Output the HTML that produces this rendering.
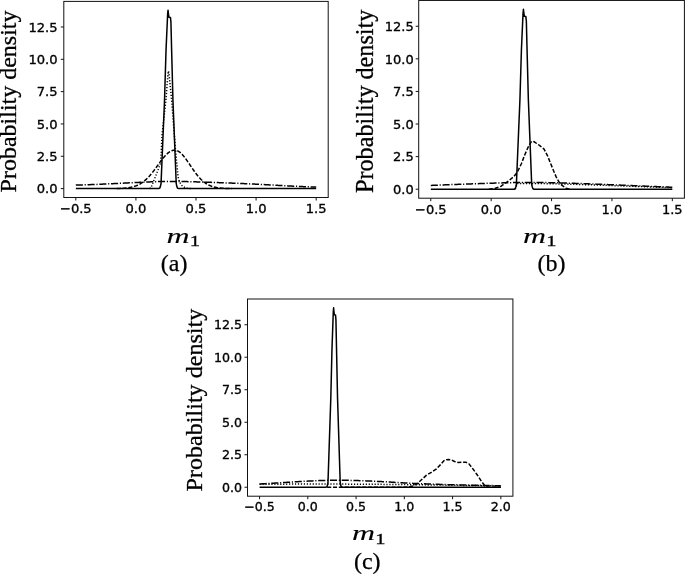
<!DOCTYPE html>
<html><head><meta charset="utf-8"><title>Figure</title>
<style>html,body{margin:0;padding:0;background:#fff}svg{display:block}</style></head>
<body>
<svg width="685" height="574" viewBox="0 0 685 574">
<rect width="685" height="574" fill="#fff"/>
<g fill="none" stroke="#000" stroke-width="1.5" stroke-linejoin="round">
<path stroke-dasharray="1.2 1.75" d="M149.62 188.59 L150.92 187.89 L156.12 174.91 L160.73 162.73 L162.03 134.88 L165.93 100.04 L167.93 74.08 L168.43 70.99 L169.03 74.08 L171.63 100.04 L175.44 148.85 L178.04 176.71 L179.44 181.90 L182.04 185.69 L185.14 187.69 L188.14 188.49 L192.15 188.59"/>
<path stroke-dasharray="4.1 1.75" d="M116.68 188.48 L116.97 188.48 L117.26 188.47 L117.55 188.46 L117.84 188.46 L118.13 188.45 L118.41 188.44 L118.70 188.43 L118.99 188.42 L119.28 188.41 L119.57 188.40 L119.86 188.39 L120.15 188.38 L120.44 188.37 L120.73 188.36 L121.02 188.35 L121.31 188.33 L121.60 188.32 L121.88 188.30 L122.17 188.29 L122.46 188.27 L122.75 188.25 L123.04 188.24 L123.33 188.22 L123.62 188.20 L123.91 188.18 L124.20 188.15 L124.49 188.13 L124.78 188.11 L125.07 188.08 L125.35 188.06 L125.64 188.03 L125.93 188.00 L126.22 187.97 L126.51 187.94 L126.80 187.91 L127.09 187.87 L127.38 187.84 L127.67 187.80 L127.96 187.76 L128.25 187.72 L128.54 187.68 L128.82 187.64 L129.11 187.59 L129.40 187.55 L129.69 187.50 L129.98 187.45 L130.27 187.39 L130.56 187.34 L130.85 187.28 L131.14 187.22 L131.43 187.16 L131.72 187.10 L132.01 187.03 L132.29 186.96 L132.58 186.89 L132.87 186.82 L133.16 186.74 L133.45 186.66 L133.74 186.58 L134.03 186.49 L134.32 186.40 L134.61 186.31 L134.90 186.22 L135.19 186.12 L135.48 186.02 L135.76 185.91 L136.05 185.81 L136.34 185.69 L136.63 185.58 L136.92 185.46 L137.21 185.34 L137.50 185.21 L137.79 185.08 L138.08 184.95 L138.37 184.81 L138.66 184.67 L138.95 184.52 L139.23 184.37 L139.52 184.22 L139.81 184.06 L140.10 183.90 L140.39 183.73 L140.68 183.56 L140.97 183.38 L141.26 183.20 L141.55 183.02 L141.84 182.82 L142.13 182.63 L142.42 182.43 L142.70 182.22 L142.99 182.02 L143.28 181.80 L143.57 181.58 L143.86 181.36 L144.15 181.13 L144.44 180.89 L144.73 180.65 L145.02 180.41 L145.31 180.16 L145.60 179.90 L145.89 179.64 L146.17 179.38 L146.46 179.11 L146.75 178.83 L147.04 178.55 L147.33 178.27 L147.62 177.98 L147.91 177.68 L148.20 177.38 L148.49 177.08 L148.78 176.77 L149.07 176.46 L149.35 176.14 L149.64 175.81 L149.93 175.49 L150.22 175.15 L150.51 174.82 L150.80 174.48 L151.09 174.13 L151.38 173.78 L151.67 173.43 L151.96 173.07 L152.25 172.71 L152.54 172.35 L152.82 171.98 L153.11 171.61 L153.40 171.23 L153.69 170.86 L153.98 170.48 L154.27 170.09 L154.56 169.71 L154.85 169.32 L155.14 168.93 L155.43 168.54 L155.72 168.14 L156.01 167.75 L156.29 167.35 L156.58 166.95 L156.87 166.56 L157.16 166.16 L157.45 165.76 L157.74 165.36 L158.03 164.96 L158.32 164.56 L158.61 164.16 L158.90 163.76 L159.19 163.36 L159.48 162.96 L159.76 162.57 L160.05 162.17 L160.34 161.78 L160.63 161.39 L160.92 161.01 L161.21 160.62 L161.50 160.24 L161.79 159.86 L162.08 159.49 L162.37 159.12 L162.66 158.75 L162.95 158.39 L163.23 158.03 L163.52 157.68 L163.81 157.33 L164.10 156.99 L164.39 156.65 L164.68 156.32 L164.97 156.00 L165.26 155.68 L165.55 155.37 L165.84 155.07 L166.13 154.77 L166.42 154.48 L166.70 154.20 L166.99 153.93 L167.28 153.66 L167.57 153.41 L167.86 153.16 L168.15 152.92 L168.44 152.69 L168.73 152.46 L169.02 152.25 L169.31 152.05 L169.60 151.86 L169.89 151.67 L170.17 151.50 L170.46 151.34 L170.75 151.19 L171.04 151.04 L171.33 150.91 L171.62 150.79 L171.91 150.68 L172.20 150.58 L172.49 150.49 L172.78 150.42 L173.07 150.35 L173.36 150.30 L173.64 150.25 L173.93 150.22 L174.22 150.20 L174.51 150.19 L174.80 150.19 L175.09 150.21 L175.38 150.24 L175.67 150.28 L175.96 150.33 L176.25 150.40 L176.54 150.48 L176.83 150.58 L177.11 150.68 L177.40 150.80 L177.69 150.93 L177.98 151.08 L178.27 151.23 L178.56 151.40 L178.85 151.58 L179.14 151.77 L179.43 151.98 L179.72 152.19 L180.01 152.42 L180.30 152.65 L180.58 152.90 L180.87 153.16 L181.16 153.43 L181.45 153.70 L181.74 153.99 L182.03 154.29 L182.32 154.59 L182.61 154.91 L182.90 155.23 L183.19 155.56 L183.48 155.90 L183.76 156.25 L184.05 156.61 L184.34 156.97 L184.63 157.33 L184.92 157.71 L185.21 158.09 L185.50 158.47 L185.79 158.87 L186.08 159.26 L186.37 159.66 L186.66 160.07 L186.95 160.48 L187.23 160.89 L187.52 161.31 L187.81 161.72 L188.10 162.15 L188.39 162.57 L188.68 162.99 L188.97 163.42 L189.26 163.85 L189.55 164.28 L189.84 164.71 L190.13 165.14 L190.42 165.57 L190.70 166.00 L190.99 166.43 L191.28 166.86 L191.57 167.29 L191.86 167.72 L192.15 168.15 L192.44 168.57 L192.73 168.99 L193.02 169.41 L193.31 169.83 L193.60 170.24 L193.89 170.65 L194.17 171.06 L194.46 171.46 L194.75 171.87 L195.04 172.26 L195.33 172.66 L195.62 173.05 L195.91 173.43 L196.20 173.81 L196.49 174.19 L196.78 174.56 L197.07 174.92 L197.36 175.28 L197.64 175.64 L197.93 175.99 L198.22 176.34 L198.51 176.68 L198.80 177.01 L199.09 177.34 L199.38 177.66 L199.67 177.98 L199.96 178.29 L200.25 178.60 L200.54 178.90 L200.83 179.19 L201.11 179.48 L201.40 179.77 L201.69 180.04 L201.98 180.31 L202.27 180.58 L202.56 180.84 L202.85 181.09 L203.14 181.34 L203.43 181.58 L203.72 181.82 L204.01 182.05 L204.30 182.27 L204.58 182.49 L204.87 182.71 L205.16 182.91 L205.45 183.12 L205.74 183.31 L206.03 183.51 L206.32 183.69 L206.61 183.87 L206.90 184.05 L207.19 184.22 L207.48 184.39 L207.77 184.55 L208.05 184.70 L208.34 184.86 L208.63 185.00 L208.92 185.14 L209.21 185.28 L209.50 185.42 L209.79 185.54 L210.08 185.67 L210.37 185.79 L210.66 185.91 L210.95 186.02 L211.24 186.13 L211.52 186.23 L211.81 186.33 L212.10 186.43 L212.39 186.52 L212.68 186.62 L212.97 186.70 L213.26 186.79 L213.55 186.87 L213.84 186.94 L214.13 187.02 L214.42 187.09 L214.70 187.16 L214.99 187.23 L215.28 187.29 L215.57 187.35 L215.86 187.41 L216.15 187.47 L216.44 187.52 L216.73 187.57 L217.02 187.62 L217.31 187.67 L217.60 187.71 L217.89 187.76 L218.17 187.80 L218.46 187.84 L218.75 187.88 L219.04 187.91 L219.33 187.95 L219.62 187.98 L219.91 188.01 L220.20 188.04 L220.49 188.07 L220.78 188.10 L221.07 188.12 L221.36 188.15 L221.64 188.17 L221.93 188.20 L222.22 188.22 L222.51 188.24 L222.80 188.26 L223.09 188.28 L223.38 188.29 L223.67 188.31 L223.96 188.32 L224.25 188.34 L224.54 188.35 L224.83 188.37 L225.11 188.38 L225.40 188.39 L225.69 188.40 L225.98 188.41 L226.27 188.42 L226.56 188.43 L226.85 188.44 L227.14 188.45 L227.43 188.46 L227.72 188.47 L228.01 188.47 L228.30 188.48 L228.58 188.49 L228.87 188.49 L229.16 188.50 L229.45 188.51 L229.74 188.51 L230.03 188.52 L230.32 188.52 L230.61 188.52 L230.90 188.53 L231.19 188.53 L231.48 188.54 L231.77 188.54 L232.05 188.54"/>
<path stroke-dasharray="7.1 1.75 1.15 1.75" d="M75.82 185.10 L76.42 185.08 L77.02 185.07 L77.63 185.05 L78.23 185.04 L78.83 185.02 L79.43 185.00 L80.04 184.99 L80.64 184.97 L81.24 184.95 L81.84 184.93 L82.44 184.91 L83.05 184.90 L83.65 184.88 L84.25 184.86 L84.85 184.84 L85.46 184.82 L86.06 184.80 L86.66 184.78 L87.26 184.76 L87.87 184.73 L88.47 184.71 L89.07 184.69 L89.67 184.67 L90.28 184.65 L90.88 184.62 L91.48 184.60 L92.08 184.58 L92.69 184.55 L93.29 184.53 L93.89 184.51 L94.49 184.48 L95.10 184.46 L95.70 184.43 L96.30 184.41 L96.90 184.38 L97.51 184.36 L98.11 184.33 L98.71 184.31 L99.31 184.28 L99.91 184.25 L100.52 184.23 L101.12 184.20 L101.72 184.17 L102.32 184.15 L102.93 184.12 L103.53 184.09 L104.13 184.06 L104.73 184.04 L105.34 184.01 L105.94 183.98 L106.54 183.95 L107.14 183.92 L107.75 183.90 L108.35 183.87 L108.95 183.84 L109.55 183.81 L110.16 183.78 L110.76 183.75 L111.36 183.72 L111.96 183.69 L112.57 183.66 L113.17 183.63 L113.77 183.61 L114.37 183.58 L114.98 183.55 L115.58 183.52 L116.18 183.49 L116.78 183.46 L117.38 183.43 L117.99 183.40 L118.59 183.37 L119.19 183.34 L119.79 183.31 L120.40 183.28 L121.00 183.25 L121.60 183.22 L122.20 183.19 L122.81 183.16 L123.41 183.13 L124.01 183.10 L124.61 183.07 L125.22 183.04 L125.82 183.01 L126.42 182.98 L127.02 182.95 L127.63 182.92 L128.23 182.89 L128.83 182.86 L129.43 182.83 L130.04 182.80 L130.64 182.77 L131.24 182.74 L131.84 182.71 L132.45 182.68 L133.05 182.65 L133.65 182.62 L134.25 182.59 L134.85 182.56 L135.46 182.53 L136.06 182.50 L136.66 182.47 L137.26 182.45 L137.87 182.42 L138.47 182.39 L139.07 182.36 L139.67 182.33 L140.28 182.30 L140.88 182.28 L141.48 182.25 L142.08 182.22 L142.69 182.19 L143.29 182.17 L143.89 182.14 L144.49 182.12 L145.10 182.09 L145.70 182.06 L146.30 182.04 L146.90 182.01 L147.51 181.99 L148.11 181.96 L148.71 181.94 L149.31 181.92 L149.92 181.89 L150.52 181.87 L151.12 181.85 L151.72 181.83 L152.32 181.80 L152.93 181.78 L153.53 181.76 L154.13 181.74 L154.73 181.72 L155.34 181.70 L155.94 181.68 L156.54 181.67 L157.14 181.65 L157.75 181.63 L158.35 181.61 L158.95 181.60 L159.55 181.58 L160.16 181.57 L160.76 181.55 L161.36 181.54 L161.96 181.53 L162.57 181.51 L163.17 181.50 L163.77 181.49 L164.37 181.48 L164.98 181.47 L165.58 181.46 L166.18 181.45 L166.78 181.45 L167.39 181.44 L167.99 181.43 L168.59 181.43 L169.19 181.42 L169.79 181.42 L170.40 181.42 L171.00 181.41 L171.60 181.41 L172.20 181.41 L172.81 181.41 L173.41 181.41 L174.01 181.41 L174.61 181.42 L175.22 181.42 L175.82 181.42 L176.42 181.43 L177.02 181.43 L177.63 181.44 L178.23 181.45 L178.83 181.46 L179.43 181.46 L180.04 181.47 L180.64 181.48 L181.24 181.49 L181.84 181.50 L182.45 181.51 L183.05 181.52 L183.65 181.54 L184.25 181.55 L184.86 181.56 L185.46 181.58 L186.06 181.59 L186.66 181.60 L187.26 181.62 L187.87 181.63 L188.47 181.65 L189.07 181.66 L189.67 181.68 L190.28 181.70 L190.88 181.71 L191.48 181.73 L192.08 181.75 L192.69 181.77 L193.29 181.78 L193.89 181.80 L194.49 181.82 L195.10 181.84 L195.70 181.85 L196.30 181.87 L196.90 181.89 L197.51 181.91 L198.11 181.93 L198.71 181.95 L199.31 181.97 L199.92 181.99 L200.52 182.00 L201.12 182.02 L201.72 182.04 L202.33 182.06 L202.93 182.08 L203.53 182.10 L204.13 182.12 L204.74 182.14 L205.34 182.16 L205.94 182.18 L206.54 182.20 L207.14 182.22 L207.75 182.24 L208.35 182.26 L208.95 182.28 L209.55 182.30 L210.16 182.32 L210.76 182.34 L211.36 182.36 L211.96 182.39 L212.57 182.41 L213.17 182.43 L213.77 182.45 L214.37 182.47 L214.98 182.49 L215.58 182.51 L216.18 182.53 L216.78 182.56 L217.39 182.58 L217.99 182.60 L218.59 182.62 L219.19 182.64 L219.80 182.66 L220.40 182.69 L221.00 182.71 L221.60 182.73 L222.21 182.75 L222.81 182.78 L223.41 182.80 L224.01 182.82 L224.61 182.84 L225.22 182.87 L225.82 182.89 L226.42 182.91 L227.02 182.94 L227.63 182.96 L228.23 182.98 L228.83 183.00 L229.43 183.03 L230.04 183.05 L230.64 183.08 L231.24 183.10 L231.84 183.12 L232.45 183.15 L233.05 183.17 L233.65 183.19 L234.25 183.22 L234.86 183.24 L235.46 183.27 L236.06 183.29 L236.66 183.32 L237.27 183.34 L237.87 183.37 L238.47 183.39 L239.07 183.42 L239.68 183.44 L240.28 183.47 L240.88 183.49 L241.48 183.52 L242.08 183.54 L242.69 183.57 L243.29 183.60 L243.89 183.62 L244.49 183.65 L245.10 183.68 L245.70 183.70 L246.30 183.73 L246.90 183.76 L247.51 183.78 L248.11 183.81 L248.71 183.84 L249.31 183.87 L249.92 183.89 L250.52 183.92 L251.12 183.95 L251.72 183.98 L252.33 184.01 L252.93 184.04 L253.53 184.07 L254.13 184.09 L254.74 184.12 L255.34 184.15 L255.94 184.18 L256.54 184.21 L257.15 184.24 L257.75 184.27 L258.35 184.30 L258.95 184.34 L259.55 184.37 L260.16 184.40 L260.76 184.43 L261.36 184.46 L261.96 184.49 L262.57 184.52 L263.17 184.56 L263.77 184.59 L264.37 184.62 L264.98 184.65 L265.58 184.69 L266.18 184.72 L266.78 184.75 L267.39 184.78 L267.99 184.82 L268.59 184.85 L269.19 184.88 L269.80 184.91 L270.40 184.95 L271.00 184.98 L271.60 185.01 L272.21 185.05 L272.81 185.08 L273.41 185.11 L274.01 185.15 L274.62 185.18 L275.22 185.21 L275.82 185.25 L276.42 185.28 L277.02 185.31 L277.63 185.35 L278.23 185.38 L278.83 185.41 L279.43 185.44 L280.04 185.48 L280.64 185.51 L281.24 185.54 L281.84 185.58 L282.45 185.61 L283.05 185.64 L283.65 185.67 L284.25 185.71 L284.86 185.74 L285.46 185.77 L286.06 185.80 L286.66 185.83 L287.27 185.87 L287.87 185.90 L288.47 185.93 L289.07 185.96 L289.68 185.99 L290.28 186.02 L290.88 186.05 L291.48 186.08 L292.09 186.12 L292.69 186.15 L293.29 186.18 L293.89 186.21 L294.49 186.23 L295.10 186.26 L295.70 186.29 L296.30 186.32 L296.90 186.35 L297.51 186.38 L298.11 186.41 L298.71 186.44 L299.31 186.46 L299.92 186.49 L300.52 186.52 L301.12 186.54 L301.72 186.57 L302.33 186.60 L302.93 186.62 L303.53 186.65 L304.13 186.67 L304.74 186.70 L305.34 186.72 L305.94 186.75 L306.54 186.77 L307.15 186.79 L307.75 186.82 L308.35 186.84 L308.95 186.86 L309.56 186.89 L310.16 186.91 L310.76 186.93 L311.36 186.95 L311.96 186.97 L312.57 186.99 L313.17 187.01 L313.77 187.03 L314.37 187.05 L314.98 187.06 L315.58 187.08 L316.18 187.10"/>
<path d="M75.87 188.59 L158.72 188.59 L159.73 188.09 L160.43 186.39 L161.03 183.69 L164.53 100.04 L166.03 50.13 L167.63 14.19 L168.03 10.19 L168.43 13.69 L168.93 17.18 L170.43 17.38 L170.93 22.17 L171.63 50.13 L172.93 100.04 L176.24 183.69 L176.84 186.39 L177.54 188.09 L178.54 188.59 L316.18 188.59"/>
</g>
<g stroke="#111" stroke-width="1" fill="none">
<rect x="63.80" y="1.40" width="264.40" height="196.10"/>
<path d="M75.82 197.50 v3.0 M135.91 197.50 v3.0 M196.00 197.50 v3.0 M256.09 197.50 v3.0 M316.18 197.50 v3.0 M63.80 188.59 h-3.0 M63.80 156.27 h-3.0 M63.80 123.95 h-3.0 M63.80 91.63 h-3.0 M63.80 59.31 h-3.0 M63.80 26.99 h-3.0"/>
</g>
<g font-family="'DejaVu Sans', 'Liberation Sans', sans-serif" font-size="13.1" fill="#000" stroke="#000" stroke-width="0.35">
<text x="75.82" y="212.90" text-anchor="middle">−0.5</text>
<text x="135.91" y="212.90" text-anchor="middle">0.0</text>
<text x="196.00" y="212.90" text-anchor="middle">0.5</text>
<text x="256.09" y="212.90" text-anchor="middle">1.0</text>
<text x="316.18" y="212.90" text-anchor="middle">1.5</text>
<text x="57.60" y="193.37" text-anchor="end">0.0</text>
<text x="57.60" y="161.05" text-anchor="end">2.5</text>
<text x="57.60" y="128.73" text-anchor="end">5.0</text>
<text x="57.60" y="96.41" text-anchor="end">7.5</text>
<text x="57.60" y="64.09" text-anchor="end">10.0</text>
<text x="57.60" y="31.77" text-anchor="end">12.5</text>
</g>
<text font-family="'Liberation Serif', serif" font-size="24" stroke="#000" stroke-width="0.3" text-anchor="middle" transform="translate(15.70 101.45) rotate(-90)">Probability density</text>
<text font-family="'Liberation Serif', serif" font-style="italic" font-size="21" stroke="#000" stroke-width="0.1" text-anchor="middle" transform="translate(178.00 242.60) scale(1.52 1)">m</text>
<text font-family="'Liberation Serif', serif" font-size="15.6" stroke="#000" stroke-width="0.3" text-anchor="middle" transform="translate(194.90 245.90) scale(1.32 1)">1</text>
<text font-family="'Liberation Serif', serif" font-size="24" stroke="#000" stroke-width="0.25" text-anchor="middle" x="174.10" y="270.70">(a)</text>
<g fill="none" stroke="#000" stroke-width="1.5" stroke-linejoin="round">
<path stroke-dasharray="1.2 1.75" d="M515.32 189.21 L517.13 183.60 L517.52 183.59 L517.91 183.59 L518.30 183.58 L518.69 183.58 L519.07 183.57 L519.46 183.57 L519.85 183.56 L520.24 183.56 L520.63 183.56 L521.02 183.55 L521.41 183.55 L521.80 183.54 L522.19 183.54 L522.58 183.54 L522.96 183.53 L523.35 183.53 L523.74 183.53 L524.13 183.53 L524.52 183.52 L524.91 183.52 L525.30 183.52 L525.69 183.52 L526.08 183.51 L526.46 183.51 L526.85 183.51 L527.24 183.51 L527.63 183.51 L528.02 183.51 L528.41 183.51 L528.80 183.51 L529.19 183.51 L529.58 183.51 L529.97 183.51 L530.35 183.51 L530.74 183.51 L531.13 183.51 L531.52 183.51 L531.91 183.51 L532.30 183.51 L532.69 183.51 L533.08 183.51 L533.47 183.51 L533.85 183.51 L534.24 183.52 L534.63 183.52 L535.02 183.52 L535.41 183.52 L535.80 183.53 L536.19 183.53 L536.58 183.53 L536.97 183.53 L537.36 183.54 L537.74 183.54 L538.13 183.54 L538.52 183.55 L538.91 183.55 L539.30 183.55 L539.69 183.56 L540.08 183.56 L540.47 183.57 L540.86 183.57 L541.24 183.57 L541.63 183.58 L542.02 183.58 L542.41 183.59 L542.80 183.59 L543.19 183.60 L543.58 183.60 L543.97 183.61 L544.36 183.62 L544.75 183.62 L545.13 183.63 L545.52 183.63 L545.91 183.64 L546.30 183.64 L546.69 183.65 L547.08 183.66 L547.47 183.66 L547.86 183.67 L548.25 183.68 L548.64 183.68 L549.02 183.69 L549.41 183.70 L549.80 183.70 L550.19 183.71 L550.58 183.72 L550.97 183.73 L551.36 183.73 L551.75 183.74 L552.14 183.75 L552.52 183.76 L552.91 183.76 L553.30 183.77 L553.69 183.78 L554.08 183.79 L554.47 183.79 L554.86 183.80 L555.25 183.81 L555.64 183.82 L556.03 183.83 L556.41 183.84 L556.80 183.84 L557.19 183.85 L557.58 183.86 L557.97 183.87 L558.36 183.88 L558.75 183.89 L559.14 183.90 L559.53 183.91 L559.91 183.92 L560.30 183.93 L560.69 183.93 L561.08 183.94 L561.47 183.95 L561.86 183.96 L562.25 183.97 L562.64 183.98 L563.03 183.99 L563.42 184.00 L563.80 184.01 L564.19 184.02 L564.58 184.03 L564.97 184.04 L565.36 184.05 L565.75 184.06 L566.14 184.07 L566.53 184.08 L566.92 184.09 L567.30 184.10 L567.69 184.11 L568.08 184.13 L568.47 184.14 L568.86 184.15 L569.25 184.16 L569.64 184.17 L570.03 184.18 L570.42 184.19 L570.81 184.20 L571.19 184.21 L571.58 184.22 L571.97 184.23 L572.36 184.25 L572.75 184.26 L573.14 184.27 L573.53 184.28 L573.92 184.29 L574.31 184.30 L574.70 184.31 L575.08 184.33 L575.47 184.34 L575.86 184.35 L576.25 184.36 L576.64 184.37 L577.03 184.38 L577.42 184.40 L577.81 184.41 L578.20 184.42 L578.58 184.43 L578.97 184.44 L579.36 184.46 L579.75 184.47 L580.14 184.48 L580.53 184.49 L580.92 184.50 L581.31 184.52 L581.70 184.53 L582.09 184.54 L582.47 184.55 L582.86 184.57 L583.25 184.58 L583.64 184.59 L584.03 184.60 L584.42 184.61 L584.81 184.63 L585.20 184.64 L585.59 184.65 L585.97 184.66 L586.36 184.68 L586.75 184.69 L587.14 184.70 L587.53 184.72 L587.92 184.73 L588.31 184.74 L588.70 184.75 L589.09 184.77 L589.48 184.78 L589.86 184.79 L590.25 184.80 L590.64 184.82 L591.03 184.83 L591.42 184.84 L591.81 184.86 L592.20 184.87 L592.59 184.88 L592.98 184.90 L593.36 184.91 L593.75 184.92 L594.14 184.93 L594.53 184.95 L594.92 184.96 L595.31 184.97 L595.70 184.99 L596.09 185.00 L596.48 185.01 L596.87 185.03 L597.25 185.04 L597.64 185.05 L598.03 185.07 L598.42 185.08 L598.81 185.09 L599.20 185.11 L599.59 185.12 L599.98 185.13 L600.37 185.15 L600.76 185.16 L601.14 185.17 L601.53 185.19 L601.92 185.20 L602.31 185.21 L602.70 185.23 L603.09 185.24 L603.48 185.25 L603.87 185.27 L604.26 185.28 L604.64 185.29 L605.03 185.31 L605.42 185.32 L605.81 185.34 L606.20 185.35 L606.59 185.36 L606.98 185.38 L607.37 185.39 L607.76 185.40 L608.15 185.42 L608.53 185.43 L608.92 185.44 L609.31 185.46 L609.70 185.47 L610.09 185.49 L610.48 185.50 L610.87 185.51 L611.26 185.53 L611.65 185.54 L612.03 185.55 L612.42 185.57 L612.81 185.58 L613.20 185.60 L613.59 185.61 L613.98 185.62 L614.37 185.64 L614.76 185.65 L615.15 185.66 L615.54 185.68 L615.92 185.69 L616.31 185.71 L616.70 185.72 L617.09 185.73 L617.48 185.75 L617.87 185.76 L618.26 185.77 L618.65 185.79 L619.04 185.80 L619.42 185.82 L619.81 185.83 L620.20 185.84 L620.59 185.86 L620.98 185.87 L621.37 185.89 L621.76 185.90 L622.15 185.91 L622.54 185.93 L622.93 185.94 L623.31 185.95 L623.70 185.97 L624.09 185.98 L624.48 186.00 L624.87 186.01 L625.26 186.02 L625.65 186.04 L626.04 186.05 L626.43 186.07 L626.82 186.08 L627.20 186.09 L627.59 186.11 L627.98 186.12 L628.37 186.14 L628.76 186.15 L629.15 186.16 L629.54 186.18 L629.93 186.19 L630.32 186.20 L630.70 186.22 L631.09 186.23 L631.48 186.25 L631.87 186.26 L632.26 186.27 L632.65 186.29 L633.04 186.30 L633.43 186.32 L633.82 186.33 L634.21 186.34 L634.59 186.36 L634.98 186.37 L635.37 186.39 L635.76 186.40 L636.15 186.41 L636.54 186.43 L636.93 186.44 L637.32 186.46 L637.71 186.47 L638.09 186.48 L638.48 186.50 L638.87 186.51 L639.26 186.53 L639.65 186.54 L640.04 186.55 L640.43 186.57 L640.82 186.58 L641.21 186.60 L641.60 186.61 L641.98 186.62 L642.37 186.64 L642.76 186.65 L643.15 186.66 L643.54 186.68 L643.93 186.69 L644.32 186.71 L644.71 186.72 L645.10 186.73 L645.48 186.75 L645.87 186.76 L646.26 186.78 L646.65 186.79 L647.04 186.80 L647.43 186.82 L647.82 186.83 L648.21 186.85 L648.60 186.86 L648.99 186.87 L649.37 186.89 L649.76 186.90 L650.15 186.92 L650.54 186.93 L650.93 186.94 L651.32 186.96 L651.71 186.97 L652.10 186.99 L652.49 187.00 L652.87 187.01 L653.26 187.03 L653.65 187.04 L654.04 187.06 L654.43 187.07 L654.82 187.08 L655.21 187.10 L655.60 187.11 L655.99 187.12 L656.38 187.14 L656.76 187.15 L657.15 187.17 L657.54 187.18 L657.93 187.19 L658.32 187.21 L658.71 187.22 L659.10 187.24 L659.49 187.25 L659.88 187.26 L660.27 187.28 L660.65 187.29 L661.04 187.31 L661.43 187.32 L661.82 187.33 L662.21 187.35 L662.60 187.36 L662.99 187.37 L663.38 187.39 L663.77 187.40 L664.15 187.42 L664.54 187.43 L664.93 187.44 L665.32 187.46 L665.71 187.47 L666.10 187.49 L666.49 187.50 L666.88 187.51 L667.27 187.53 L667.66 187.54 L668.04 187.55 L668.43 187.57 L668.82 187.58 L669.21 187.60 L669.60 187.61 L669.99 187.62 L670.38 187.64 L670.77 187.65 L671.16 187.66 L671.54 187.68 L671.93 187.69 L672.32 187.71"/>
<path stroke-dasharray="4.1 1.75" d="M488.75 189.21 L494.79 188.56 L500.83 186.34 L508.80 180.74 L514.11 176.17 L517.25 172.26 L521.36 163.79 L524.62 155.19 L528.60 146.19 L531.02 142.02 L532.65 140.98 L534.64 142.02 L539.47 145.41 L544.06 149.06 L547.32 155.32 L550.22 162.49 L553.36 170.31 L556.26 177.09 L559.40 182.69 L562.42 185.69 L566.04 188.17 L569.67 189.21"/>
<path stroke-dasharray="7.1 1.75 1.15 1.75" d="M430.78 185.43 L431.38 185.41 L431.99 185.38 L432.59 185.36 L433.20 185.33 L433.80 185.31 L434.41 185.28 L435.01 185.26 L435.62 185.23 L436.23 185.21 L436.83 185.19 L437.44 185.16 L438.04 185.14 L438.65 185.11 L439.25 185.09 L439.86 185.07 L440.46 185.04 L441.07 185.02 L441.67 184.99 L442.28 184.97 L442.88 184.95 L443.49 184.92 L444.10 184.90 L444.70 184.87 L445.31 184.85 L445.91 184.83 L446.52 184.80 L447.12 184.78 L447.73 184.76 L448.33 184.73 L448.94 184.71 L449.54 184.69 L450.15 184.66 L450.75 184.64 L451.36 184.62 L451.97 184.59 L452.57 184.57 L453.18 184.55 L453.78 184.53 L454.39 184.50 L454.99 184.48 L455.60 184.46 L456.20 184.43 L456.81 184.41 L457.41 184.39 L458.02 184.37 L458.62 184.34 L459.23 184.32 L459.84 184.30 L460.44 184.28 L461.05 184.25 L461.65 184.23 L462.26 184.21 L462.86 184.19 L463.47 184.17 L464.07 184.14 L464.68 184.12 L465.28 184.10 L465.89 184.08 L466.49 184.06 L467.10 184.03 L467.71 184.01 L468.31 183.99 L468.92 183.97 L469.52 183.95 L470.13 183.93 L470.73 183.91 L471.34 183.88 L471.94 183.86 L472.55 183.84 L473.15 183.82 L473.76 183.80 L474.36 183.78 L474.97 183.76 L475.58 183.74 L476.18 183.71 L476.79 183.69 L477.39 183.67 L478.00 183.65 L478.60 183.63 L479.21 183.61 L479.81 183.59 L480.42 183.57 L481.02 183.55 L481.63 183.53 L482.23 183.51 L482.84 183.49 L483.45 183.47 L484.05 183.45 L484.66 183.43 L485.26 183.41 L485.87 183.39 L486.47 183.37 L487.08 183.35 L487.68 183.33 L488.29 183.31 L488.89 183.29 L489.50 183.27 L490.10 183.25 L490.71 183.23 L491.31 183.21 L491.92 183.19 L492.53 183.17 L493.13 183.15 L493.74 183.13 L494.34 183.11 L494.95 183.09 L495.55 183.08 L496.16 183.06 L496.76 183.04 L497.37 183.02 L497.97 183.00 L498.58 182.98 L499.18 182.96 L499.79 182.95 L500.40 182.93 L501.00 182.91 L501.61 182.89 L502.21 182.88 L502.82 182.86 L503.42 182.84 L504.03 182.83 L504.63 182.81 L505.24 182.79 L505.84 182.78 L506.45 182.76 L507.05 182.75 L507.66 182.73 L508.27 182.72 L508.87 182.70 L509.48 182.69 L510.08 182.67 L510.69 182.66 L511.29 182.65 L511.90 182.63 L512.50 182.62 L513.11 182.61 L513.71 182.60 L514.32 182.59 L514.92 182.57 L515.53 182.56 L516.14 182.55 L516.74 182.54 L517.35 182.53 L517.95 182.52 L518.56 182.51 L519.16 182.51 L519.77 182.50 L520.37 182.49 L520.98 182.48 L521.58 182.48 L522.19 182.47 L522.79 182.46 L523.40 182.46 L524.01 182.45 L524.61 182.45 L525.22 182.44 L525.82 182.44 L526.43 182.44 L527.03 182.43 L527.64 182.43 L528.24 182.43 L528.85 182.43 L529.45 182.43 L530.06 182.43 L530.66 182.43 L531.27 182.43 L531.88 182.43 L532.48 182.43 L533.09 182.44 L533.69 182.44 L534.30 182.44 L534.90 182.44 L535.51 182.45 L536.11 182.45 L536.72 182.46 L537.32 182.46 L537.93 182.47 L538.53 182.48 L539.14 182.48 L539.75 182.49 L540.35 182.50 L540.96 182.50 L541.56 182.51 L542.17 182.52 L542.77 182.53 L543.38 182.54 L543.98 182.55 L544.59 182.56 L545.19 182.57 L545.80 182.58 L546.40 182.59 L547.01 182.60 L547.62 182.61 L548.22 182.62 L548.83 182.64 L549.43 182.65 L550.04 182.66 L550.64 182.67 L551.25 182.69 L551.85 182.70 L552.46 182.71 L553.06 182.73 L553.67 182.74 L554.27 182.76 L554.88 182.77 L555.48 182.79 L556.09 182.80 L556.70 182.82 L557.30 182.83 L557.91 182.85 L558.51 182.86 L559.12 182.88 L559.72 182.90 L560.33 182.91 L560.93 182.93 L561.54 182.95 L562.14 182.96 L562.75 182.98 L563.35 183.00 L563.96 183.02 L564.57 183.03 L565.17 183.05 L565.78 183.07 L566.38 183.09 L566.99 183.11 L567.59 183.13 L568.20 183.14 L568.80 183.16 L569.41 183.18 L570.01 183.20 L570.62 183.22 L571.22 183.24 L571.83 183.26 L572.44 183.28 L573.04 183.30 L573.65 183.32 L574.25 183.34 L574.86 183.36 L575.46 183.38 L576.07 183.40 L576.67 183.43 L577.28 183.45 L577.88 183.47 L578.49 183.49 L579.09 183.51 L579.70 183.53 L580.31 183.55 L580.91 183.58 L581.52 183.60 L582.12 183.62 L582.73 183.64 L583.33 183.66 L583.94 183.69 L584.54 183.71 L585.15 183.73 L585.75 183.75 L586.36 183.78 L586.96 183.80 L587.57 183.82 L588.18 183.84 L588.78 183.87 L589.39 183.89 L589.99 183.91 L590.60 183.93 L591.20 183.96 L591.81 183.98 L592.41 184.00 L593.02 184.03 L593.62 184.05 L594.23 184.07 L594.83 184.10 L595.44 184.12 L596.05 184.14 L596.65 184.17 L597.26 184.19 L597.86 184.22 L598.47 184.24 L599.07 184.26 L599.68 184.29 L600.28 184.31 L600.89 184.34 L601.49 184.36 L602.10 184.38 L602.70 184.41 L603.31 184.43 L603.92 184.46 L604.52 184.48 L605.13 184.50 L605.73 184.53 L606.34 184.55 L606.94 184.58 L607.55 184.60 L608.15 184.63 L608.76 184.65 L609.36 184.67 L609.97 184.70 L610.57 184.72 L611.18 184.75 L611.79 184.77 L612.39 184.80 L613.00 184.82 L613.60 184.85 L614.21 184.87 L614.81 184.90 L615.42 184.92 L616.02 184.95 L616.63 184.97 L617.23 184.99 L617.84 185.02 L618.44 185.04 L619.05 185.07 L619.65 185.09 L620.26 185.12 L620.87 185.14 L621.47 185.17 L622.08 185.19 L622.68 185.22 L623.29 185.24 L623.89 185.27 L624.50 185.29 L625.10 185.32 L625.71 185.34 L626.31 185.37 L626.92 185.39 L627.52 185.42 L628.13 185.44 L628.74 185.47 L629.34 185.49 L629.95 185.52 L630.55 185.54 L631.16 185.57 L631.76 185.59 L632.37 185.62 L632.97 185.64 L633.58 185.66 L634.18 185.69 L634.79 185.71 L635.39 185.74 L636.00 185.76 L636.61 185.79 L637.21 185.81 L637.82 185.84 L638.42 185.86 L639.03 185.89 L639.63 185.91 L640.24 185.94 L640.84 185.96 L641.45 185.99 L642.05 186.01 L642.66 186.04 L643.26 186.06 L643.87 186.09 L644.48 186.11 L645.08 186.14 L645.69 186.16 L646.29 186.19 L646.90 186.21 L647.50 186.24 L648.11 186.26 L648.71 186.29 L649.32 186.31 L649.92 186.34 L650.53 186.36 L651.13 186.39 L651.74 186.41 L652.35 186.44 L652.95 186.46 L653.56 186.49 L654.16 186.51 L654.77 186.54 L655.37 186.56 L655.98 186.59 L656.58 186.61 L657.19 186.64 L657.79 186.66 L658.40 186.69 L659.00 186.71 L659.61 186.74 L660.22 186.76 L660.82 186.79 L661.43 186.81 L662.03 186.84 L662.64 186.86 L663.24 186.89 L663.85 186.91 L664.45 186.94 L665.06 186.96 L665.66 186.98 L666.27 187.01 L666.87 187.03 L667.48 187.06 L668.09 187.08 L668.69 187.11 L669.30 187.13 L669.90 187.16 L670.51 187.18 L671.11 187.21 L671.72 187.23 L672.32 187.26"/>
<path d="M430.83 189.21 L514.09 189.21 L515.10 188.71 L515.80 187.00 L516.40 184.28 L519.92 99.92 L521.43 49.59 L523.04 13.35 L523.44 9.32 L523.85 12.84 L524.35 16.37 L525.86 16.57 L526.36 21.40 L527.06 49.59 L528.37 99.92 L531.69 184.28 L532.29 187.00 L533.00 188.71 L534.00 189.21 L672.32 189.21"/>
</g>
<g stroke="#111" stroke-width="1" fill="none">
<rect x="418.70" y="0.45" width="265.70" height="197.75"/>
<path d="M430.78 198.20 v3.0 M491.16 198.20 v3.0 M551.55 198.20 v3.0 M611.94 198.20 v3.0 M672.32 198.20 v3.0 M418.70 189.21 h-3.0 M418.70 156.62 h-3.0 M418.70 124.03 h-3.0 M418.70 91.44 h-3.0 M418.70 58.85 h-3.0 M418.70 26.26 h-3.0"/>
</g>
<g font-family="'DejaVu Sans', 'Liberation Sans', sans-serif" font-size="13.0" fill="#000" stroke="#000" stroke-width="0.35">
<text x="430.78" y="213.60" text-anchor="middle">−0.5</text>
<text x="491.16" y="213.60" text-anchor="middle">0.0</text>
<text x="551.55" y="213.60" text-anchor="middle">0.5</text>
<text x="611.94" y="213.60" text-anchor="middle">1.0</text>
<text x="672.32" y="213.60" text-anchor="middle">1.5</text>
<text x="413.70" y="193.96" text-anchor="end">0.0</text>
<text x="413.70" y="161.37" text-anchor="end">2.5</text>
<text x="413.70" y="128.77" text-anchor="end">5.0</text>
<text x="413.70" y="96.18" text-anchor="end">7.5</text>
<text x="413.70" y="63.59" text-anchor="end">10.0</text>
<text x="413.70" y="31.00" text-anchor="end">12.5</text>
</g>
<text font-family="'Liberation Serif', serif" font-size="24.2" stroke="#000" stroke-width="0.3" text-anchor="middle" transform="translate(373.10 101.32) rotate(-90)">Probability density</text>
<text font-family="'Liberation Serif', serif" font-style="italic" font-size="21" stroke="#000" stroke-width="0.1" text-anchor="middle" transform="translate(534.50 242.60) scale(1.52 1)">m</text>
<text font-family="'Liberation Serif', serif" font-size="15.6" stroke="#000" stroke-width="0.3" text-anchor="middle" transform="translate(551.40 245.90) scale(1.32 1)">1</text>
<text font-family="'Liberation Serif', serif" font-size="24" stroke="#000" stroke-width="0.25" text-anchor="middle" x="551.40" y="270.80">(b)</text>
<g fill="none" stroke="#000" stroke-width="1.5" stroke-linejoin="round">
<path stroke-dasharray="1.2 1.75" d="M259.56 484.31 L260.17 484.31 L260.77 484.30 L261.38 484.30 L261.98 484.29 L262.59 484.29 L263.19 484.28 L263.80 484.28 L264.40 484.27 L265.01 484.27 L265.61 484.26 L266.22 484.26 L266.82 484.25 L267.42 484.25 L268.03 484.24 L268.63 484.24 L269.24 484.23 L269.84 484.23 L270.45 484.23 L271.05 484.22 L271.66 484.22 L272.26 484.21 L272.87 484.21 L273.47 484.20 L274.08 484.20 L274.68 484.20 L275.29 484.19 L275.89 484.19 L276.50 484.18 L277.10 484.18 L277.70 484.18 L278.31 484.17 L278.91 484.17 L279.52 484.17 L280.12 484.16 L280.73 484.16 L281.33 484.16 L281.94 484.15 L282.54 484.15 L283.15 484.15 L283.75 484.14 L284.36 484.14 L284.96 484.14 L285.57 484.13 L286.17 484.13 L286.77 484.13 L287.38 484.12 L287.98 484.12 L288.59 484.12 L289.19 484.12 L289.80 484.11 L290.40 484.11 L291.01 484.11 L291.61 484.11 L292.22 484.10 L292.82 484.10 L293.43 484.10 L294.03 484.10 L294.64 484.09 L295.24 484.09 L295.85 484.09 L296.45 484.09 L297.05 484.09 L297.66 484.08 L298.26 484.08 L298.87 484.08 L299.47 484.08 L300.08 484.08 L300.68 484.07 L301.29 484.07 L301.89 484.07 L302.50 484.07 L303.10 484.07 L303.71 484.07 L304.31 484.07 L304.92 484.06 L305.52 484.06 L306.13 484.06 L306.73 484.06 L307.33 484.06 L307.94 484.06 L308.54 484.06 L309.15 484.06 L309.75 484.06 L310.36 484.06 L310.96 484.05 L311.57 484.05 L312.17 484.05 L312.78 484.05 L313.38 484.05 L313.99 484.05 L314.59 484.05 L315.20 484.05 L315.80 484.05 L316.40 484.05 L317.01 484.05 L317.61 484.05 L318.22 484.05 L318.82 484.05 L319.43 484.05 L320.03 484.05 L320.64 484.05 L321.24 484.05 L321.85 484.05 L322.45 484.05 L323.06 484.05 L323.66 484.05 L324.27 484.06 L324.87 484.06 L325.48 484.06 L326.08 484.06 L326.68 484.06 L327.29 484.06 L327.89 484.06 L328.50 484.06 L329.10 484.06 L329.71 484.06 L330.31 484.06 L330.92 484.07 L331.52 484.07 L332.13 484.07 L332.73 484.07 L333.34 484.07 L333.94 484.07 L334.55 484.07 L335.15 484.08 L335.76 484.08 L336.36 484.08 L336.96 484.08 L337.57 484.08 L338.17 484.09 L338.78 484.09 L339.38 484.09 L339.99 484.09 L340.59 484.09 L341.20 484.10 L341.80 484.10 L342.41 484.10 L343.01 484.10 L343.62 484.11 L344.22 484.11 L344.83 484.11 L345.43 484.11 L346.03 484.12 L346.64 484.12 L347.24 484.12 L347.85 484.13 L348.45 484.13 L349.06 484.13 L349.66 484.13 L350.27 484.14 L350.87 484.14 L351.48 484.14 L352.08 484.15 L352.69 484.15 L353.29 484.15 L353.90 484.16 L354.50 484.16 L355.11 484.16 L355.71 484.17 L356.31 484.17 L356.92 484.18 L357.52 484.18 L358.13 484.18 L358.73 484.19 L359.34 484.19 L359.94 484.19 L360.55 484.20 L361.15 484.20 L361.76 484.21 L362.36 484.21 L362.97 484.22 L363.57 484.22 L364.18 484.22 L364.78 484.23 L365.39 484.23 L365.99 484.24 L366.59 484.24 L367.20 484.25 L367.80 484.25 L368.41 484.26 L369.01 484.26 L369.62 484.26 L370.22 484.27 L370.83 484.27 L371.43 484.28 L372.04 484.28 L372.64 484.29 L373.25 484.29 L373.85 484.30 L374.46 484.30 L375.06 484.31 L375.66 484.32 L376.27 484.32 L376.87 484.33 L377.48 484.33 L378.08 484.34 L378.69 484.34 L379.29 484.35 L379.90 484.35 L380.50 484.36 L381.11 484.36 L381.71 484.37 L382.32 484.38 L382.92 484.38 L383.53 484.39 L384.13 484.39 L384.74 484.40 L385.34 484.40 L385.94 484.41 L386.55 484.42 L387.15 484.42 L387.76 484.43 L388.36 484.43 L388.97 484.44 L389.57 484.45 L390.18 484.45 L390.78 484.46 L391.39 484.47 L391.99 484.47 L392.60 484.48 L393.20 484.49 L393.81 484.49 L394.41 484.50 L395.01 484.50 L395.62 484.51 L396.22 484.52 L396.83 484.52 L397.43 484.53 L398.04 484.54 L398.64 484.54 L399.25 484.55 L399.85 484.56 L400.46 484.56 L401.06 484.57 L401.67 484.58 L402.27 484.59 L402.88 484.59 L403.48 484.60 L404.09 484.61 L404.69 484.61 L405.29 484.62 L405.90 484.63 L406.50 484.63 L407.11 484.64 L407.71 484.65 L408.32 484.66 L408.92 484.66 L409.53 484.67 L410.13 484.68 L410.74 484.69 L411.34 484.69 L411.95 484.70 L412.55 484.71 L413.16 484.72 L413.76 484.72 L414.37 484.73 L414.97 484.74 L415.57 484.75 L416.18 484.75 L416.78 484.76 L417.39 484.77 L417.99 484.78 L418.60 484.78 L419.20 484.79 L419.81 484.80 L420.41 484.81 L421.02 484.81 L421.62 484.82 L422.23 484.83 L422.83 484.84 L423.44 484.85 L424.04 484.85 L424.64 484.86 L425.25 484.87 L425.85 484.88 L426.46 484.88 L427.06 484.89 L427.67 484.90 L428.27 484.91 L428.88 484.92 L429.48 484.92 L430.09 484.93 L430.69 484.94 L431.30 484.95 L431.90 484.96 L432.51 484.96 L433.11 484.97 L433.72 484.98 L434.32 484.99 L434.92 485.00 L435.53 485.01 L436.13 485.01 L436.74 485.02 L437.34 485.03 L437.95 485.04 L438.55 485.05 L439.16 485.05 L439.76 485.06 L440.37 485.07 L440.97 485.08 L441.58 485.09 L442.18 485.10 L442.79 485.10 L443.39 485.11 L444.00 485.12 L444.60 485.13 L445.20 485.14 L445.81 485.14 L446.41 485.15 L447.02 485.16 L447.62 485.17 L448.23 485.18 L448.83 485.19 L449.44 485.19 L450.04 485.20 L450.65 485.21 L451.25 485.22 L451.86 485.23 L452.46 485.24 L453.07 485.24 L453.67 485.25 L454.27 485.26 L454.88 485.27 L455.48 485.28 L456.09 485.29 L456.69 485.29 L457.30 485.30 L457.90 485.31 L458.51 485.32 L459.11 485.33 L459.72 485.34 L460.32 485.34 L460.93 485.35 L461.53 485.36 L462.14 485.37 L462.74 485.38 L463.35 485.39 L463.95 485.39 L464.55 485.40 L465.16 485.41 L465.76 485.42 L466.37 485.43 L466.97 485.44 L467.58 485.44 L468.18 485.45 L468.79 485.46 L469.39 485.47 L470.00 485.48 L470.60 485.49 L471.21 485.49 L471.81 485.50 L472.42 485.51 L473.02 485.52 L473.63 485.53 L474.23 485.54 L474.83 485.54 L475.44 485.55 L476.04 485.56 L476.65 485.57 L477.25 485.58 L477.86 485.58 L478.46 485.59 L479.07 485.60 L479.67 485.61 L480.28 485.62 L480.88 485.63 L481.49 485.63 L482.09 485.64 L482.70 485.65 L483.30 485.66 L483.90 485.67 L484.51 485.67 L485.11 485.68 L485.72 485.69 L486.32 485.70 L486.93 485.71 L487.53 485.71 L488.14 485.72 L488.74 485.73 L489.35 485.74 L489.95 485.75 L490.56 485.75 L491.16 485.76 L491.77 485.77 L492.37 485.78 L492.98 485.79 L493.58 485.79 L494.18 485.80 L494.79 485.81 L495.39 485.82 L496.00 485.82 L496.60 485.83 L497.21 485.84 L497.81 485.85 L498.42 485.86 L499.02 485.86 L499.63 485.87 L500.23 485.88 L500.84 485.89"/>
<path stroke-dasharray="4.1 1.75" d="M327.12 487.24 L404.33 487.24 L408.86 486.98 L413.01 485.94 L417.65 483.34 L426.52 475.15 L431.35 472.29 L436.46 468.91 L440.04 465.14 L443.90 460.72 L446.31 459.68 L448.43 459.42 L451.62 459.94 L454.51 461.50 L458.18 462.54 L462.23 462.28 L465.80 462.15 L468.99 463.84 L473.81 470.08 L477.67 475.54 L481.53 481.39 L484.43 485.29 L486.36 486.85 L489.26 487.24 L500.84 487.24"/>
<path stroke-dasharray="7.1 1.75 1.15 1.75" d="M259.56 483.99 L260.17 483.95 L260.77 483.92 L261.38 483.89 L261.98 483.86 L262.59 483.83 L263.19 483.79 L263.80 483.76 L264.40 483.73 L265.01 483.69 L265.61 483.66 L266.22 483.62 L266.82 483.59 L267.42 483.55 L268.03 483.52 L268.63 483.48 L269.24 483.45 L269.84 483.41 L270.45 483.38 L271.05 483.34 L271.66 483.30 L272.26 483.27 L272.87 483.23 L273.47 483.19 L274.08 483.16 L274.68 483.12 L275.29 483.08 L275.89 483.04 L276.50 483.01 L277.10 482.97 L277.70 482.93 L278.31 482.89 L278.91 482.86 L279.52 482.82 L280.12 482.78 L280.73 482.74 L281.33 482.70 L281.94 482.67 L282.54 482.63 L283.15 482.59 L283.75 482.55 L284.36 482.51 L284.96 482.48 L285.57 482.44 L286.17 482.40 L286.77 482.36 L287.38 482.32 L287.98 482.29 L288.59 482.25 L289.19 482.21 L289.80 482.17 L290.40 482.14 L291.01 482.10 L291.61 482.06 L292.22 482.02 L292.82 481.99 L293.43 481.95 L294.03 481.91 L294.64 481.88 L295.24 481.84 L295.85 481.80 L296.45 481.77 L297.05 481.73 L297.66 481.69 L298.26 481.66 L298.87 481.62 L299.47 481.59 L300.08 481.55 L300.68 481.52 L301.29 481.48 L301.89 481.45 L302.50 481.41 L303.10 481.38 L303.71 481.35 L304.31 481.31 L304.92 481.28 L305.52 481.25 L306.13 481.22 L306.73 481.18 L307.33 481.15 L307.94 481.12 L308.54 481.09 L309.15 481.06 L309.75 481.03 L310.36 481.00 L310.96 480.97 L311.57 480.94 L312.17 480.91 L312.78 480.88 L313.38 480.85 L313.99 480.83 L314.59 480.80 L315.20 480.77 L315.80 480.75 L316.40 480.72 L317.01 480.69 L317.61 480.67 L318.22 480.65 L318.82 480.62 L319.43 480.60 L320.03 480.58 L320.64 480.55 L321.24 480.53 L321.85 480.51 L322.45 480.49 L323.06 480.47 L323.66 480.45 L324.27 480.43 L324.87 480.42 L325.48 480.40 L326.08 480.38 L326.68 480.37 L327.29 480.35 L327.89 480.34 L328.50 480.32 L329.10 480.31 L329.71 480.30 L330.31 480.29 L330.92 480.28 L331.52 480.27 L332.13 480.26 L332.73 480.25 L333.34 480.24 L333.94 480.24 L334.55 480.23 L335.15 480.23 L335.76 480.22 L336.36 480.22 L336.96 480.22 L337.57 480.21 L338.17 480.21 L338.78 480.21 L339.38 480.21 L339.99 480.22 L340.59 480.22 L341.20 480.22 L341.80 480.23 L342.41 480.23 L343.01 480.24 L343.62 480.24 L344.22 480.25 L344.83 480.26 L345.43 480.27 L346.03 480.28 L346.64 480.29 L347.24 480.30 L347.85 480.31 L348.45 480.32 L349.06 480.33 L349.66 480.35 L350.27 480.36 L350.87 480.38 L351.48 480.39 L352.08 480.41 L352.69 480.42 L353.29 480.44 L353.90 480.46 L354.50 480.47 L355.11 480.49 L355.71 480.51 L356.31 480.53 L356.92 480.55 L357.52 480.57 L358.13 480.59 L358.73 480.61 L359.34 480.63 L359.94 480.65 L360.55 480.67 L361.15 480.69 L361.76 480.71 L362.36 480.74 L362.97 480.76 L363.57 480.78 L364.18 480.81 L364.78 480.83 L365.39 480.85 L365.99 480.88 L366.59 480.90 L367.20 480.93 L367.80 480.95 L368.41 480.97 L369.01 481.00 L369.62 481.02 L370.22 481.05 L370.83 481.08 L371.43 481.10 L372.04 481.13 L372.64 481.15 L373.25 481.18 L373.85 481.21 L374.46 481.24 L375.06 481.26 L375.66 481.29 L376.27 481.32 L376.87 481.35 L377.48 481.38 L378.08 481.41 L378.69 481.44 L379.29 481.47 L379.90 481.50 L380.50 481.53 L381.11 481.56 L381.71 481.59 L382.32 481.63 L382.92 481.66 L383.53 481.69 L384.13 481.73 L384.74 481.76 L385.34 481.79 L385.94 481.83 L386.55 481.86 L387.15 481.90 L387.76 481.94 L388.36 481.97 L388.97 482.01 L389.57 482.05 L390.18 482.08 L390.78 482.12 L391.39 482.16 L391.99 482.20 L392.60 482.23 L393.20 482.27 L393.81 482.31 L394.41 482.35 L395.01 482.39 L395.62 482.42 L396.22 482.46 L396.83 482.50 L397.43 482.54 L398.04 482.58 L398.64 482.61 L399.25 482.65 L399.85 482.69 L400.46 482.72 L401.06 482.76 L401.67 482.79 L402.27 482.83 L402.88 482.86 L403.48 482.90 L404.09 482.93 L404.69 482.97 L405.29 483.00 L405.90 483.03 L406.50 483.06 L407.11 483.09 L407.71 483.13 L408.32 483.16 L408.92 483.19 L409.53 483.22 L410.13 483.25 L410.74 483.27 L411.34 483.30 L411.95 483.33 L412.55 483.36 L413.16 483.38 L413.76 483.41 L414.37 483.44 L414.97 483.46 L415.57 483.49 L416.18 483.52 L416.78 483.54 L417.39 483.57 L417.99 483.59 L418.60 483.61 L419.20 483.64 L419.81 483.66 L420.41 483.69 L421.02 483.71 L421.62 483.73 L422.23 483.76 L422.83 483.78 L423.44 483.80 L424.04 483.82 L424.64 483.85 L425.25 483.87 L425.85 483.89 L426.46 483.91 L427.06 483.94 L427.67 483.96 L428.27 483.98 L428.88 484.00 L429.48 484.02 L430.09 484.04 L430.69 484.07 L431.30 484.09 L431.90 484.11 L432.51 484.13 L433.11 484.15 L433.72 484.17 L434.32 484.19 L434.92 484.22 L435.53 484.24 L436.13 484.26 L436.74 484.28 L437.34 484.30 L437.95 484.32 L438.55 484.34 L439.16 484.36 L439.76 484.38 L440.37 484.40 L440.97 484.42 L441.58 484.44 L442.18 484.46 L442.79 484.48 L443.39 484.50 L444.00 484.52 L444.60 484.54 L445.20 484.55 L445.81 484.57 L446.41 484.59 L447.02 484.61 L447.62 484.63 L448.23 484.64 L448.83 484.66 L449.44 484.68 L450.04 484.70 L450.65 484.71 L451.25 484.73 L451.86 484.75 L452.46 484.76 L453.07 484.78 L453.67 484.79 L454.27 484.81 L454.88 484.83 L455.48 484.84 L456.09 484.86 L456.69 484.87 L457.30 484.89 L457.90 484.90 L458.51 484.91 L459.11 484.93 L459.72 484.94 L460.32 484.96 L460.93 484.97 L461.53 484.98 L462.14 485.00 L462.74 485.01 L463.35 485.02 L463.95 485.03 L464.55 485.05 L465.16 485.06 L465.76 485.07 L466.37 485.08 L466.97 485.10 L467.58 485.11 L468.18 485.12 L468.79 485.13 L469.39 485.15 L470.00 485.16 L470.60 485.17 L471.21 485.18 L471.81 485.19 L472.42 485.20 L473.02 485.22 L473.63 485.23 L474.23 485.24 L474.83 485.25 L475.44 485.26 L476.04 485.27 L476.65 485.29 L477.25 485.30 L477.86 485.31 L478.46 485.32 L479.07 485.33 L479.67 485.34 L480.28 485.35 L480.88 485.37 L481.49 485.38 L482.09 485.39 L482.70 485.40 L483.30 485.41 L483.90 485.42 L484.51 485.44 L485.11 485.45 L485.72 485.46 L486.32 485.47 L486.93 485.49 L487.53 485.50 L488.14 485.51 L488.74 485.52 L489.35 485.54 L489.95 485.55 L490.56 485.56 L491.16 485.57 L491.77 485.59 L492.37 485.60 L492.98 485.61 L493.58 485.63 L494.18 485.64 L494.79 485.66 L495.39 485.67 L496.00 485.68 L496.60 485.70 L497.21 485.71 L497.81 485.73 L498.42 485.74 L499.02 485.76 L499.63 485.77 L500.23 485.79 L500.84 485.81"/>
<path d="M259.60 487.24 L326.14 487.24 L326.94 486.73 L327.51 485.03 L327.99 482.32 L330.80 398.19 L332.01 348.00 L333.29 311.86 L333.61 307.84 L333.93 311.36 L334.34 314.87 L335.54 315.07 L335.94 319.89 L336.51 348.00 L337.55 398.19 L340.20 482.32 L340.68 485.03 L341.25 486.73 L342.05 487.24 L500.84 487.24"/>
</g>
<g stroke="#111" stroke-width="1" fill="none">
<rect x="247.50" y="299.00" width="265.40" height="197.20"/>
<path d="M259.56 496.20 v3.0 M307.82 496.20 v3.0 M356.07 496.20 v3.0 M404.33 496.20 v3.0 M452.58 496.20 v3.0 M500.84 496.20 v3.0 M247.50 487.24 h-3.0 M247.50 454.74 h-3.0 M247.50 422.24 h-3.0 M247.50 389.73 h-3.0 M247.50 357.23 h-3.0 M247.50 324.73 h-3.0"/>
</g>
<g font-family="'DejaVu Sans', 'Liberation Sans', sans-serif" font-size="12.6" fill="#000" stroke="#000" stroke-width="0.35">
<text x="259.56" y="511.20" text-anchor="middle">−0.5</text>
<text x="307.82" y="511.20" text-anchor="middle">0.0</text>
<text x="356.07" y="511.20" text-anchor="middle">0.5</text>
<text x="404.33" y="511.20" text-anchor="middle">1.0</text>
<text x="452.58" y="511.20" text-anchor="middle">1.5</text>
<text x="500.84" y="511.20" text-anchor="middle">2.0</text>
<text x="242.00" y="491.84" text-anchor="end">0.0</text>
<text x="242.00" y="459.33" text-anchor="end">2.5</text>
<text x="242.00" y="426.83" text-anchor="end">5.0</text>
<text x="242.00" y="394.33" text-anchor="end">7.5</text>
<text x="242.00" y="361.83" text-anchor="end">10.0</text>
<text x="242.00" y="329.33" text-anchor="end">12.5</text>
</g>
<text font-family="'Liberation Serif', serif" font-size="24.1" stroke="#000" stroke-width="0.3" text-anchor="middle" transform="translate(202.30 400.10) rotate(-90)">Probability density</text>
<text font-family="'Liberation Serif', serif" font-style="italic" font-size="21" stroke="#000" stroke-width="0.1" text-anchor="middle" transform="translate(363.60 540.30) scale(1.52 1)">m</text>
<text font-family="'Liberation Serif', serif" font-size="15.6" stroke="#000" stroke-width="0.3" text-anchor="middle" transform="translate(380.50 543.60) scale(1.32 1)">1</text>
<text font-family="'Liberation Serif', serif" font-size="24" stroke="#000" stroke-width="0.25" text-anchor="middle" x="367.30" y="568.90">(c)</text>
</svg>
</body></html>
